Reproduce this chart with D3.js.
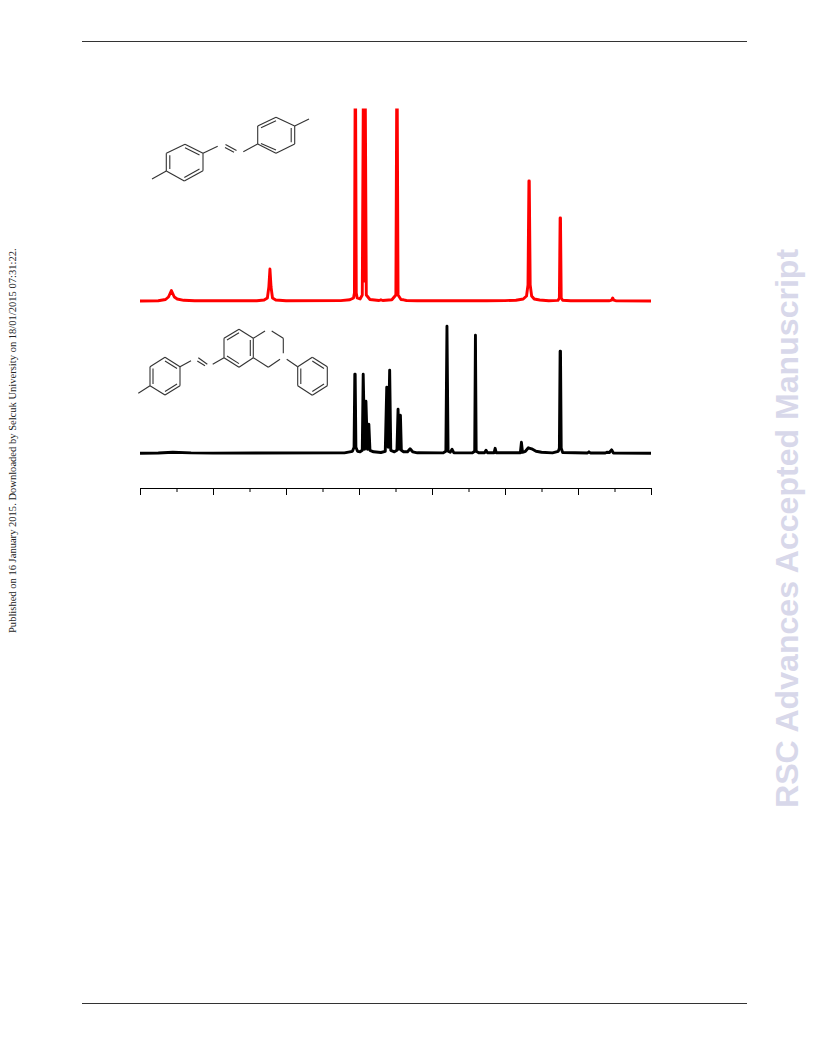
<!DOCTYPE html>
<html>
<head>
<meta charset="utf-8">
<script src="https://cdnjs.cloudflare.com/ajax/libs/d3/7.8.5/d3.min.js"></script>
<style>
  html, body { margin: 0; padding: 0; background: #fff; }
  svg { display: block; }
</style>
</head>
<body>
<div id="chart"></div>
<script>
// Spectrum data, shift in axis divisions, intensity in height above each baseline
const redShift = [0, 0.5, 0.7, 0.78, 0.83, 0.86, 0.89, 0.94, 1.02, 1.2, 1.5, 3.2, 3.4, 3.49, 3.53, 3.56, 3.59, 3.63, 3.72, 4.0, 5.5, 5.75, 5.85, 5.875, 5.895, 5.905, 5.925, 5.95, 6.03, 6.09, 6.12, 6.145, 6.17, 6.2, 6.3, 6.55, 6.6, 6.65, 6.9, 7.01, 7.035, 7.045, 7.07, 7.15, 7.22, 7.3, 7.6, 9.5, 10.0, 10.3, 10.5, 10.59, 10.63, 10.655, 10.665, 10.69, 10.73, 10.8, 10.95, 11.2, 11.45, 11.49, 11.51, 11.52, 11.54, 11.58, 11.8, 12.85, 12.92, 12.95, 12.98, 13.05, 14];
const redIntensity = [0, 0.3, 1.5, 4, 8, 10.5, 8, 4, 2, 0.7, 0.3, 0.3, 1, 3, 14, 32, 14, 3, 1, 0.3, 0.4, 1.2, 3, 8, 220, 220, 8, 3, 2, 6, 220, 20, 220, 6, 1.5, 0.5, 1.2, 0.5, 1.2, 6, 220, 220, 6, 1.5, 1.2, 0.5, 0.2, 0.2, 0.4, 0.8, 2, 5, 16, 120, 120, 16, 5, 2, 1, 0.3, 0.6, 3, 83, 83, 3, 0.8, 0.2, 0.2, 0.8, 3, 0.8, 0.1, 0];

const blackShift = [0, 0.5, 0.9, 1.4, 2, 5.6, 5.82, 5.865, 5.885, 5.895, 5.915, 5.96, 6.03, 6.09, 6.115, 6.155, 6.19, 6.23, 6.27, 6.3, 6.4, 6.6, 6.72, 6.76, 6.8, 6.84, 6.87, 6.97, 7.04, 7.07, 7.1, 7.135, 7.16, 7.22, 7.33, 7.4, 7.47, 7.6, 8.3, 8.38, 8.41, 8.44, 8.5, 8.55, 8.6, 9.1, 9.17, 9.19, 9.21, 9.28, 9.44, 9.48, 9.52, 9.7, 9.73, 9.76, 10.42, 10.45, 10.48, 10.56, 10.64, 10.73, 10.85, 11, 11.3, 11.46, 11.49, 11.51, 11.52, 11.54, 11.58, 12.26, 12.3, 12.34, 12.75, 12.79, 12.86, 12.92, 12.97, 14];
const blackIntensity = [0, 0.3, 1, 0.4, 0.2, 0.4, 2, 6, 79, 79, 6, 2, 1.5, 3, 79, 4, 52, 4, 29, 3, 1.5, 0.8, 2, 66, 6, 83, 3, 1.5, 3, 44, 4, 38, 3, 1.5, 1.5, 4.5, 1.5, 0.5, 0.4, 2, 127, 2, 1, 4, 0.5, 0.4, 2, 118, 2, 0.5, 0.5, 3, 0.5, 0.5, 5, 0.5, 0.5, 11, 1, 2, 5.5, 4.5, 2, 1, 0.4, 2, 5, 102, 102, 5, 0.8, 0.3, 1.5, 0.3, 0.3, 1, 0.8, 3.5, 0.3, 0];

const majorTicks = [0, 2, 4, 6, 8, 10, 12, 14];
const minorTicks = [1, 3, 5, 7, 9, 11, 13];

const publishedText = "Published on 16 January 2015. Downloaded by Selcuk University on 18/01/2015 07:31:22.";
const watermarkText = "RSC Advances Accepted Manuscript";

// Structures drawn above the spectra, each entry is one bond [x1, y1, x2, y2]
const diyneBonds = [
    [185, 144.3, 203, 153.3], [203, 153.3, 203, 170.7], [203, 170.7, 184.3, 181], [184.3, 181, 166.3, 171], [166.3, 171, 166.3, 153.3], [166.3, 153.3, 185, 144.3],
    [185, 147.8, 199.5, 155], [199.5, 169, 184.3, 177.5], [169.8, 169, 169.8, 155.3],
    [166.3, 171, 152, 179], [203, 153.3, 217.7, 146.3],
    [225.5, 144.5, 236.5, 150.5], [225, 147.5, 234, 152.3],
    [243.3, 151.7, 257.7, 144],
    [257.7, 144, 257.7, 126], [257.7, 126, 276, 117.3], [276, 117.3, 294.7, 126], [294.7, 126, 294.7, 144], [294.7, 144, 276, 153.3], [276, 153.3, 257.7, 144],
    [261, 127.8, 276, 120.8], [291.2, 128, 291.2, 142.3], [261, 143.5, 276, 150],
    [294.7, 126, 309, 119]
];
const amineBonds = [
    [165, 357.3, 180, 366.7], [180, 366.7, 180, 385.7], [180, 385.7, 165, 395], [165, 395, 150, 385.7], [150, 385.7, 150, 366.7], [150, 366.7, 165, 357.3],
    [165, 361, 177, 368.5], [177, 384, 165, 391.5], [153, 384, 153, 368.5],
    [150, 385.7, 138.3, 393.3], [180, 366.7, 191, 360.7],
    [198.3, 357.7, 207.3, 364.3], [197.3, 361, 205, 365.7],
    [212.7, 364.3, 224, 357.7],
    [224, 357.7, 224, 338.3], [224, 338.3, 239, 329.3], [239, 329.3, 253.3, 338.3], [253.3, 338.3, 253.3, 357.7], [253.3, 357.7, 239, 367.3], [239, 367.3, 224, 357.7],
    [227, 340, 239, 332.8], [250.3, 340, 250.3, 356], [227, 356, 239, 363.6],
    [253.3, 338.3, 265, 331], [271.7, 331, 283.3, 338.3], [283.3, 338.3, 283.3, 353.3], [280, 359.3, 268.3, 367.3], [268.3, 367.3, 253.3, 357.7],
    [286.7, 359.3, 297.7, 366.7],
    [297.7, 366.7, 312.3, 357.3], [312.3, 357.3, 327.3, 366.7], [327.3, 366.7, 327.3, 385.7], [327.3, 385.7, 312.3, 395.3], [312.3, 395.3, 297.7, 385.7], [297.7, 385.7, 297.7, 366.7],
    [312.3, 361, 324, 368.5], [324, 384, 312.3, 391.5], [300.8, 384, 300.8, 368.5]
];

const svg = d3.select("#chart")
    .append("svg")
    .attr("width", 816)
    .attr("height", 1056);

// Page furniture
svg.selectAll("line.rule")
    .data([41.5, 1003.5])
    .join("line")
    .attr("class", "rule")
    .attr("x1", 82)
    .attr("x2", 747)
    .attr("y1", d => d)
    .attr("y2", d => d)
    .attr("stroke", "#333")
    .attr("stroke-width", 1);

svg.append("text")
    .attr("transform", "translate(16,633) rotate(-90)")
    .attr("font-family", "'Liberation Serif', serif")
    .attr("font-size", 10.55)
    .attr("fill", "#222")
    .text(publishedText);

svg.append("text")
    .attr("transform", "translate(798,808) rotate(-90)")
    .attr("font-family", "'Liberation Sans', sans-serif")
    .attr("font-weight", "bold")
    .attr("font-size", 32.1)
    .attr("fill", "#d8d8ea")
    .text(watermarkText);

// X scale shared by both spectra
const x = d3.scaleLinear()
    .domain([0, 14])
    .range([140, 651]);

const yRed = d3.scaleLinear().domain([0, 200]).range([301, 101]);
const yBlack = d3.scaleLinear().domain([0, 128]).range([453.3, 325.3]);

// Red peaks run off the top of the plot
svg.append("clipPath")
    .attr("id", "plot-clip")
    .append("rect")
    .attr("x", 130)
    .attr("y", 108.5)
    .attr("width", 530)
    .attr("height", 360);

function drawSpectrum(shift, intensity, y, color) {
    const line = d3.line()
        .x(i => x(shift[i]))
        .y(i => y(intensity[i]));
    svg.append("path")
        .datum(d3.range(shift.length))
        .attr("clip-path", "url(#plot-clip)")
        .attr("d", line)
        .attr("fill", "none")
        .attr("stroke", color)
        .attr("stroke-width", 2.9)
        .attr("stroke-linejoin", "round");
}

drawSpectrum(redShift, redIntensity, yRed, "#ff0000");
drawSpectrum(blackShift, blackIntensity, yBlack, "#000000");

// Axis, no labels, ticks point down
const axisMajor = d3.axisBottom(x).tickValues(majorTicks).tickSize(7).tickSizeOuter(0).tickFormat("");
const axisMinor = d3.axisBottom(x).tickValues(minorTicks).tickSize(4).tickSizeOuter(0).tickFormat("");

svg.append("g").attr("transform", "translate(0,488)").call(axisMajor);
svg.append("g").attr("transform", "translate(0,488)").call(axisMinor);

// Structures
[diyneBonds, amineBonds].forEach(bonds => {
    svg.append("g")
        .selectAll("line")
        .data(bonds)
        .join("line")
        .attr("x1", d => d[0])
        .attr("y1", d => d[1])
        .attr("x2", d => d[2])
        .attr("y2", d => d[3])
        .attr("stroke", "#333")
        .attr("stroke-width", 1.1);
});
</script>
</body>
</html>
